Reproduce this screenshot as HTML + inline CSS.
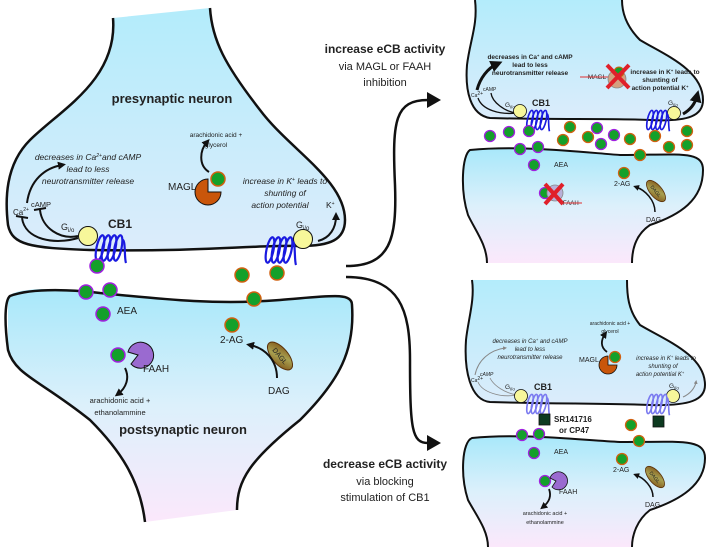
<!DOCTYPE html>
<html><head><meta charset="utf-8"><style>
html,body{margin:0;padding:0;background:#fff}
svg{display:block}
text{font-family:"Liberation Sans",sans-serif;fill:#222}
.b{font-weight:bold}
.i{font-style:italic}
</style></head><body>
<svg width="708" height="551" viewBox="0 0 708 551" xmlns="http://www.w3.org/2000/svg">
<defs>
<linearGradient id="g1" x1="0" y1="0" x2="0" y2="1"><stop offset="0" stop-color="#b3ecfb"/><stop offset="1" stop-color="#dcecfb"/></linearGradient>
<linearGradient id="g2" x1="0" y1="0" x2="0" y2="1"><stop offset="0" stop-color="#a8e8fa"/><stop offset="0.5" stop-color="#dcf0fb"/><stop offset="1" stop-color="#fbe8fb"/></linearGradient>
<linearGradient id="dg" x1="0" y1="0" x2="1" y2="1"><stop offset="0" stop-color="#7a4a10"/><stop offset="0.5" stop-color="#a8a050"/><stop offset="1" stop-color="#7a4a10"/></linearGradient>
<marker id="ah" viewBox="0 0 10 10" refX="5" refY="5" markerWidth="4" markerHeight="4" orient="auto"><path d="M0,0L10,5L0,10z" fill="#111"/></marker>
<marker id="ahg" viewBox="0 0 10 10" refX="5" refY="5" markerWidth="4" markerHeight="4" orient="auto"><path d="M0,0L10,5L0,10z" fill="#888"/></marker>
<g id="rec" fill="none" stroke-width="2.2">
<ellipse cx="0" cy="0" rx="3.5" ry="13" transform="rotate(12)"/>
<ellipse cx="6" cy="0" rx="3.5" ry="13" transform="rotate(12 6 0)"/>
<ellipse cx="12" cy="0" rx="3.5" ry="13" transform="rotate(12 12 0)"/>
<ellipse cx="18" cy="0" rx="3.5" ry="13" transform="rotate(12 18 0)"/>
<path d="M22,-8 C26,-10 24,10 26,15"/>
</g>
</defs>

<!-- ============ LEFT MAIN ============ -->
<path d="M113,18 C118,80 60,110 30,140 C5,165 5,200 8,225 C12,245 30,248 90,250 C200,252 250,245 300,246 C330,246 345,240 345,220 C345,180 290,150 260,110 C225,65 212,40 210,8" fill="url(#g1)" stroke="#111" stroke-width="2.5"/>
<path d="M8,300 C5,290 40,285 100,293 C170,300 220,305 280,300 C330,296 352,292 352,305 C355,350 340,380 300,420 C250,460 237,480 237,510 L145,522 C140,480 120,450 90,420 C40,380 15,375 8,350 Z" fill="url(#g2)" stroke="none"/>
<path d="M145,522 C140,480 120,450 90,420 C40,380 15,375 8,350 C4,320 5,300 10,296 C40,285 100,293 100,293 C170,300 220,305 280,300 C330,296 352,292 352,305 C355,350 340,380 300,420 C250,460 237,480 237,510" fill="none" stroke="#111" stroke-width="2.5"/>

<text x="172" y="103" font-size="13" class="b" text-anchor="middle">presynaptic neuron</text>
<text x="88" y="160" font-size="8.5" class="i" text-anchor="middle">decreases in Ca<tspan dy="-3" font-size="5">2+</tspan><tspan dy="3">and cAMP</tspan></text>
<text x="88" y="172" font-size="8.5" class="i" text-anchor="middle">lead to less</text>
<text x="88" y="184" font-size="8.5" class="i" text-anchor="middle">neurotransmitter release</text>
<path d="M27,203 C30,180 45,168 62,165" fill="none" stroke="#111" stroke-width="2" marker-end="url(#ah)"/>
<text x="13" y="215" font-size="8">Ca<tspan dy="-4" font-size="5">2+</tspan></text>
<text x="31" y="207" font-size="7.5">cAMP</text>
<path d="M78,238 C55,245 25,240 22,218 M16,216L28,218 M78,236 C60,240 42,228 40,210 M34,210L46,208" fill="none" stroke="#111" stroke-width="2"/>
<text x="61" y="230" font-size="9">G<tspan dy="2" font-size="6">i/o</tspan></text>
<circle cx="88" cy="236" r="9.5" fill="#f7f79a" stroke="#111" stroke-width="1"/>
<text x="108" y="228" font-size="12" class="b">CB1</text>
<use href="#rec" x="100" y="248" stroke="#1a1ae0"/>

<text x="216" y="137" font-size="6.5" text-anchor="middle">arachidonic acid  +</text>
<text x="216" y="147" font-size="6.5" text-anchor="middle">glycerol</text>
<path d="M209,172 C198,165 200,150 207,142" fill="none" stroke="#111" stroke-width="2" marker-end="url(#ah)"/>
<text x="168" y="190" font-size="10">MAGL</text>
<path d="M208,192 L208,179 A13,13 0 1 0 221,192 Z" fill="#c9560b" stroke="#111" stroke-width="1"/>

<text x="285" y="184" font-size="8.5" class="i" text-anchor="middle">increase in K<tspan dy="-3" font-size="5">+</tspan><tspan dy="3"> leads to</tspan></text>
<text x="285" y="196" font-size="8.5" class="i" text-anchor="middle">shunting of</text>
<text x="280" y="208" font-size="8.5" class="i" text-anchor="middle">action potential</text>
<text x="326" y="208" font-size="8.5">K<tspan dy="-3" font-size="5">+</tspan></text>
<text x="296" y="228" font-size="9">G<tspan dy="2" font-size="6">i/o</tspan></text>
<circle cx="303" cy="239" r="9.5" fill="#f7f79a" stroke="#111" stroke-width="1"/>
<path d="M318,241 C330,238 336,228 336,216" fill="none" stroke="#111" stroke-width="2" marker-end="url(#ah)"/>
<use href="#rec" x="270" y="250" stroke="#1a1ae0"/>

<g stroke-width="1.5" fill="#13a02a">
<circle cx="97" cy="266" r="7" stroke="#a020e0"/>
<circle cx="86" cy="292" r="7" stroke="#a020e0"/>
<circle cx="110" cy="290" r="7" stroke="#a020e0"/>
<circle cx="103" cy="314" r="7" stroke="#a020e0"/>
<circle cx="118" cy="355" r="7" stroke="#a020e0"/>
<circle cx="218" cy="179" r="7" stroke="#d06010"/>
<circle cx="242" cy="275" r="7" stroke="#d06010"/>
<circle cx="277" cy="273" r="7" stroke="#d06010"/>
<circle cx="254" cy="299" r="7" stroke="#d06010"/>
<circle cx="232" cy="325" r="7" stroke="#d06010"/>
</g>
<text x="117" y="314" font-size="10">AEA</text>
<path d="M138,355 L128,352 A13,13 0 1 1 131,364 Z" fill="#9a6ad0" stroke="#111" stroke-width="1"/>
<text x="143" y="372" font-size="10">FAAH</text>
<path d="M125,368 C130,378 126,388 118,394" fill="none" stroke="#111" stroke-width="2" marker-end="url(#ah)"/>
<text x="120" y="403" font-size="7.5" text-anchor="middle">arachidonic acid  +</text>
<text x="120" y="415" font-size="7.5" text-anchor="middle">ethanolammine</text>
<text x="220" y="343" font-size="10">2-AG</text>
<ellipse cx="280" cy="356" rx="17" ry="8" transform="rotate(50 280 356)" fill="url(#dg)" stroke="#5a3008" stroke-width="1"/>
<text x="280" y="356" font-size="7" transform="rotate(50 280 356)" text-anchor="middle" dy="2.5">DAGL</text>
<path d="M277,378 C277,360 265,348 250,345" fill="none" stroke="#111" stroke-width="2" marker-end="url(#ah)"/>
<text x="268" y="394" font-size="10">DAG</text>
<text x="183" y="434" font-size="13" class="b" text-anchor="middle">postsynaptic neuron</text>

<!-- arrows -->
<path d="M346,266 C390,266 397,240 395,185 C392,120 395,100 428,100" fill="none" stroke="#111" stroke-width="2.5"/>
<path d="M427,92 L441,100 L427,108 Z" fill="#111"/>
<path d="M346,277 C400,277 410,310 410,360 C410,430 412,443 428,443" fill="none" stroke="#111" stroke-width="2.5"/>
<path d="M427,435 L441,443 L427,451 Z" fill="#111"/>
<text x="385" y="53" font-size="12" class="b" text-anchor="middle">increase eCB activity</text>
<text x="385" y="70" font-size="11" text-anchor="middle">via MAGL or FAAH</text>
<text x="385" y="86" font-size="11" text-anchor="middle">inhibition</text>
<text x="385" y="468" font-size="12" class="b" text-anchor="middle">decrease eCB activity</text>
<text x="385" y="485" font-size="11" text-anchor="middle">via blocking</text>
<text x="385" y="501" font-size="11" text-anchor="middle">stimulation of CB1</text>

<!-- ============ TOP RIGHT ============ -->
<path d="M475,0 C478,25 470,40 467,65 C465,90 470,115 490,118 C560,120 600,118 650,120 C690,122 703,115 703,100 C703,70 665,55 640,40 C625,25 622,10 622,0 Z" fill="url(#g1)" stroke="none"/>
<path d="M475,0 C478,25 470,40 467,65 C465,90 470,115 490,118 C560,120 600,118 650,120 C690,122 703,115 703,100 C703,70 665,55 640,40 C625,25 622,10 622,0" fill="none" stroke="#111" stroke-width="2"/>
<path d="M470,150 C520,145 580,152 620,155 C680,155 703,150 703,170 C703,200 680,215 650,225 C635,235 632,250 632,263 L487,263 C487,245 475,230 468,215 C460,190 462,155 470,150 Z" fill="url(#g2)"/>
<path d="M487,263 C487,245 475,230 468,215 C460,190 462,155 470,150 C520,145 580,152 620,155 C680,155 703,150 703,170 C703,200 680,215 650,225 C635,235 632,250 632,263" fill="none" stroke="#111" stroke-width="2"/>
<text x="530" y="59" font-size="6.5" class="b" text-anchor="middle">decreases in Ca<tspan dy="-2" font-size="4">+</tspan><tspan dy="2"> and cAMP</tspan></text>
<text x="530" y="67" font-size="6.5" class="b" text-anchor="middle">lead to less</text>
<text x="530" y="75" font-size="6.5" class="b" text-anchor="middle">neurotransmitter release</text>
<path d="M477,90 C480,78 488,68 497,64" fill="none" stroke="#111" stroke-width="3" marker-end="url(#ah)"/>
<text x="471" y="97" font-size="5">Ca<tspan dy="-2">2+</tspan></text>
<text x="483" y="91" font-size="5">cAMP</text>
<path d="M517,113 C500,115 482,110 478,98 M517,113 C505,112 492,102 491,93" fill="none" stroke="#111" stroke-width="1.3"/>
<text x="505" y="107" font-size="6.5">G<tspan dy="1.5" font-size="4.5">i/o</tspan></text>
<circle cx="520" cy="111" r="6.5" fill="#f7f79a" stroke="#111" stroke-width="0.8"/>
<text x="532" y="106" font-size="9" class="b">CB1</text>
<use href="#rec" transform="translate(530 120) scale(0.75)" stroke="#1a1ae0"/>
<text x="597" y="79" font-size="6.5" fill="#d03030" text-anchor="middle">MAGL</text>
<line x1="580" y1="77" x2="614" y2="77" stroke="#e03030" stroke-width="1"/>
<circle cx="617" cy="79" r="9" fill="#d4a080" stroke="#888" stroke-width="0.8"/>
<circle cx="619" cy="72" r="5" fill="#13a02a" stroke="#d06010"/>
<path d="M607,65 L629,88 M629,65 L607,88" stroke="#e0202a" stroke-width="4"/>
<text x="665" y="74" font-size="6.5" class="b" text-anchor="middle">increase in K<tspan dy="-2" font-size="4">+</tspan><tspan dy="2"> leads to</tspan></text>
<text x="660" y="82" font-size="6.5" class="b" text-anchor="middle">shunting of</text>
<text x="660" y="90" font-size="6.5" class="b" text-anchor="middle">action potential K<tspan dy="-2" font-size="4">+</tspan></text>
<text x="668" y="105" font-size="6.5">G<tspan dy="1.5" font-size="4.5">i/o</tspan></text>
<circle cx="674" cy="113" r="6.5" fill="#f7f79a" stroke="#111" stroke-width="0.8"/>
<path d="M683,114 C690,110 695,104 697,96" fill="none" stroke="#111" stroke-width="3" marker-end="url(#ah)"/>
<use href="#rec" transform="translate(650 120) scale(0.75)" stroke="#1a1ae0"/>
<g stroke-width="1.3" fill="#13a02a">
<circle cx="490" cy="136" r="5.5" stroke="#a020e0"/>
<circle cx="509" cy="132" r="5.5" stroke="#a020e0"/>
<circle cx="529" cy="131" r="5.5" stroke="#a020e0"/>
<circle cx="520" cy="149" r="5.5" stroke="#a020e0"/>
<circle cx="538" cy="147" r="5.5" stroke="#a020e0"/>
<circle cx="534" cy="165" r="5.5" stroke="#a020e0"/>
<circle cx="597" cy="128" r="5.5" stroke="#a020e0"/>
<circle cx="601" cy="144" r="5.5" stroke="#a020e0"/>
<circle cx="614" cy="135" r="5.5" stroke="#a020e0"/>
<circle cx="545" cy="193" r="5.5" stroke="#a020e0"/>
<circle cx="570" cy="127" r="5.5" stroke="#d06010"/>
<circle cx="563" cy="140" r="5.5" stroke="#d06010"/>
<circle cx="588" cy="137" r="5.5" stroke="#d06010"/>
<circle cx="630" cy="139" r="5.5" stroke="#d06010"/>
<circle cx="655" cy="136" r="5.5" stroke="#d06010"/>
<circle cx="687" cy="131" r="5.5" stroke="#d06010"/>
<circle cx="669" cy="147" r="5.5" stroke="#d06010"/>
<circle cx="687" cy="145" r="5.5" stroke="#d06010"/>
<circle cx="640" cy="155" r="5.5" stroke="#d06010"/>
<circle cx="624" cy="173" r="5.5" stroke="#d06010"/>
</g>
<text x="554" y="167" font-size="7">AEA</text>
<circle cx="555" cy="193" r="8" fill="#b8b0d8" stroke="#888" stroke-width="0.8"/>
<path d="M545,184 L563,204 M563,184 L545,204" stroke="#e0202a" stroke-width="4"/>
<text x="563" y="205" font-size="6" fill="#d03030">FAAH</text>
<line x1="561" y1="203" x2="582" y2="203" stroke="#e03030" stroke-width="1"/>
<text x="614" y="186" font-size="7">2-AG</text>
<ellipse cx="656" cy="191" rx="13" ry="6" transform="rotate(50 656 191)" fill="url(#dg)" stroke="#5a3008" stroke-width="0.8"/>
<text x="656" y="193" font-size="5" transform="rotate(50 656 191)" text-anchor="middle">DAGL</text>
<path d="M655,212 C655,200 645,190 636,187" fill="none" stroke="#111" stroke-width="1.5" marker-end="url(#ah)"/>
<text x="646" y="222" font-size="7">DAG</text>

<!-- ============ BOTTOM RIGHT ============ -->
<path d="M472,280 C475,300 468,320 466,340 C464,370 470,400 490,402 C560,404 600,403 650,405 C690,406 705,400 705,385 C705,355 665,340 640,325 C628,310 627,295 627,280 Z" fill="url(#g1)"/>
<path d="M472,280 C475,300 468,320 466,340 C464,370 470,400 490,402 C560,404 600,403 650,405 C690,406 705,400 705,385 C705,355 665,340 640,325 C628,310 627,295 627,280" fill="none" stroke="#111" stroke-width="2"/>
<path d="M472,438 C520,433 580,440 620,442 C680,442 705,438 705,458 C705,485 680,500 650,510 C637,520 632,535 632,547 L488,547 C488,530 476,515 468,500 C460,475 462,442 472,438 Z" fill="url(#g2)"/>
<path d="M488,547 C488,530 476,515 468,500 C460,475 462,442 472,438 C520,433 580,440 620,442 C680,442 705,438 705,458 C705,485 680,500 650,510 C637,520 632,535 632,547" fill="none" stroke="#111" stroke-width="2"/>
<text x="530" y="343" font-size="6" class="i" text-anchor="middle" fill="#999">decreases in Ca<tspan dy="-2" font-size="4">+</tspan><tspan dy="2"> and cAMP</tspan></text>
<text x="530" y="351" font-size="6" class="i" text-anchor="middle" fill="#999">lead to less</text>
<text x="530" y="359" font-size="6" class="i" text-anchor="middle" fill="#999">neurotransmitter release</text>
<path d="M475,375 C478,360 490,350 505,348" fill="none" stroke="#888" stroke-width="1" marker-end="url(#ahg)"/>
<text x="471" y="382" font-size="5" fill="#999">Ca<tspan dy="-2">2+</tspan></text>
<text x="480" y="376" font-size="5" fill="#999" class="i">cAMP</text>
<path d="M517,395 C500,398 482,392 478,382 M517,395 C505,393 494,386 490,378" fill="none" stroke="#888" stroke-width="0.8"/>
<text x="505" y="389" font-size="6.5">G<tspan dy="1.5" font-size="4.5">i/o</tspan></text>
<circle cx="521" cy="396" r="6.5" fill="#f7f79a" stroke="#111" stroke-width="0.8"/>
<text x="534" y="390" font-size="9" class="b">CB1</text>
<use href="#rec" transform="translate(530 404) scale(0.75)" stroke="#7a7af0"/>
<rect x="539" y="414" width="11" height="11" fill="#0d3a20" stroke="#111" stroke-width="0.8"/>
<text x="554" y="422" font-size="8" class="b">SR141716</text>
<text x="559" y="433" font-size="8" class="b">or CP47</text>
<text x="610" y="325" font-size="5" text-anchor="middle">arachidonic acid  +</text>
<text x="610" y="333" font-size="5" text-anchor="middle">glycerol</text>
<path d="M607,352 C600,347 601,340 605,334" fill="none" stroke="#111" stroke-width="1.8" marker-end="url(#ah)"/>
<text x="579" y="362" font-size="7">MAGL</text>
<path d="M608,365 L608,356 A9,9 0 1 0 617,365 Z" fill="#c9560b" stroke="#111" stroke-width="0.8"/>
<circle cx="615" cy="357" r="5.5" fill="#13a02a" stroke="#d06010" stroke-width="1.3"/>
<text x="666" y="360" font-size="6" class="i" text-anchor="middle" fill="#999">increase in K<tspan dy="-2" font-size="4">+</tspan><tspan dy="2"> leads to</tspan></text>
<text x="663" y="368" font-size="6" class="i" text-anchor="middle" fill="#999">shunting of</text>
<text x="660" y="376" font-size="6" class="i" text-anchor="middle" fill="#999">action potential   K<tspan dy="-2" font-size="4">+</tspan></text>
<text x="669" y="388" font-size="6.5">G<tspan dy="1.5" font-size="4.5">i/o</tspan></text>
<circle cx="673" cy="396" r="6.5" fill="#f7f79a" stroke="#111" stroke-width="0.8"/>
<path d="M683,397 C690,394 695,388 696,382" fill="none" stroke="#888" stroke-width="1" marker-end="url(#ahg)"/>
<use href="#rec" transform="translate(650 404) scale(0.75)" stroke="#7a7af0"/>
<rect x="653" y="416" width="11" height="11" fill="#0d3a20" stroke="#111" stroke-width="0.8"/>
<g stroke-width="1.3" fill="#13a02a">
<circle cx="522" cy="435" r="5.5" stroke="#a020e0"/>
<circle cx="539" cy="434" r="5.5" stroke="#a020e0"/>
<circle cx="534" cy="453" r="5.5" stroke="#a020e0"/>
<circle cx="545" cy="481" r="5.5" stroke="#a020e0"/>
<circle cx="631" cy="425" r="5.5" stroke="#d06010"/>
<circle cx="639" cy="441" r="5.5" stroke="#d06010"/>
<circle cx="622" cy="459" r="5.5" stroke="#d06010"/>
</g>
<text x="554" y="454" font-size="7">AEA</text>
<path d="M556,481 L550,478 A9,9 0 1 1 552,487 Z" fill="#9a6ad0" stroke="#111" stroke-width="0.8"/>
<text x="559" y="494" font-size="7">FAAH</text>
<path d="M549,489 C552,497 548,503 543,507" fill="none" stroke="#111" stroke-width="1.8" marker-end="url(#ah)"/>
<text x="545" y="515" font-size="5.5" text-anchor="middle">arachidonic acid  +</text>
<text x="545" y="524" font-size="5.5" text-anchor="middle">ethanolammine</text>
<text x="613" y="472" font-size="7">2-AG</text>
<ellipse cx="655" cy="477" rx="13" ry="6" transform="rotate(50 655 477)" fill="url(#dg)" stroke="#5a3008" stroke-width="0.8"/>
<text x="655" y="479" font-size="5" transform="rotate(50 655 477)" text-anchor="middle">DAGL</text>
<path d="M653,497 C653,487 644,478 636,475" fill="none" stroke="#111" stroke-width="1.5" marker-end="url(#ah)"/>
<text x="645" y="507" font-size="7">DAG</text>
</svg>
</body></html>
